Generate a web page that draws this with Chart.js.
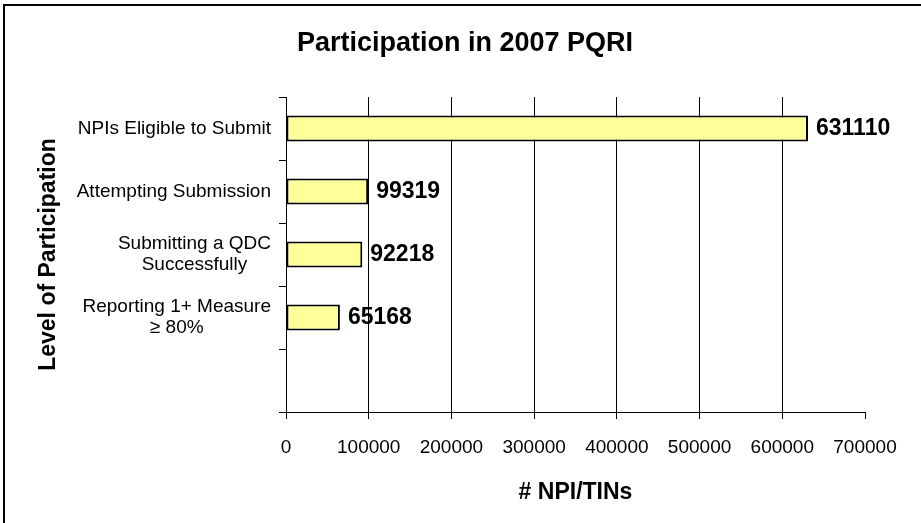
<!DOCTYPE html>
<html>
<head>
<meta charset="utf-8">
<script src="https://cdn.jsdelivr.net/npm/chart.js@4.4.1/dist/chart.umd.min.js"></script>
<style>
html, body { margin: 0; padding: 0; background: #fff; }
#wrap { width: 921px; height: 523px; }
</style>
</head>
<body>
<div id="wrap"><canvas id="pqriChart" width="921" height="523"></canvas></div>
<script>
// chart data
const categories = [
    ['NPIs Eligible to Submit'],
    ['Attempting Submission'],
    ['Submitting a QDC', 'Successfully'],
    ['Reporting 1+ Measure', '≥ 80%'],
    ['']
];
const counts = [631110, 99319, 92218, 65168, null];
const xTicks = [0, 100000, 200000, 300000, 400000, 500000, 600000, 700000];

const FONT = "'Liberation Sans', Arial, sans-serif";

// thin frame on the top and left edge
const framePlugin = {
    id: 'frame',
    beforeDraw(chart) {
        const c = chart.ctx;
        c.save();
        c.fillStyle = '#fff';
        c.fillRect(0, 0, chart.width, chart.height);
        c.fillStyle = '#000';
        c.fillRect(3, 4, 2, chart.height - 4);
        c.fillRect(3, 4, chart.width - 3, 2);
        c.restore();
    }
};

// category labels: block right aligned, lines centred on each other
const categoryLabels = {
    id: 'categoryLabels',
    afterDraw(chart) {
        const scale = chart.scales.y;
        const c = chart.ctx;
        const right = scale.right - 7 - 8;
        const lh = 21;
        c.save();
        c.font = '19px ' + FONT;
        c.fillStyle = '#000';
        c.textAlign = 'center';
        c.textBaseline = 'middle';
        categories.forEach((lines, i) => {
            const y = scale.getPixelForTick(i);
            const w = Math.max(...lines.map(l => c.measureText(l).width));
            const cx = right - w / 2;
            lines.forEach((l, j) => {
                c.fillText(l, cx, y + (j - (lines.length - 1) / 2) * lh);
            });
        });
        c.restore();
    }
};

// bold value next to each bar
const valueLabels = {
    id: 'valueLabels',
    afterDatasetsDraw(chart) {
        const c = chart.ctx;
        const meta = chart.getDatasetMeta(0);
        c.save();
        c.font = 'bold 23px ' + FONT;
        c.fillStyle = '#000';
        c.textAlign = 'left';
        c.textBaseline = 'middle';
        meta.data.forEach((bar, i) => {
            if (counts[i] == null) return;
            c.fillText(String(counts[i]), bar.x + 8, bar.y);
        });
        c.restore();
    }
};

const ctx = document.getElementById('pqriChart').getContext('2d');
const chart = new Chart(ctx, {
    type: 'bar',
    data: {
        labels: categories.map(l => l.join(' ')),
        datasets: [{
            data: counts,
            backgroundColor: '#FFFF99',
            borderColor: '#000',
            borderWidth: 2,
            borderSkipped: false,
            categoryPercentage: 1,
            barPercentage: 0.41
        }]
    },
    options: {
        indexAxis: 'y',
        responsive: false,
        devicePixelRatio: 1,
        animation: false,
        layout: { padding: { left: 33, right: 24, top: 0, bottom: 0 } },
        plugins: {
            legend: { display: false },
            tooltip: { enabled: false },
            title: {
                display: true,
                text: 'Participation in 2007 PQRI',
                color: '#000',
                font: { family: FONT, size: 27, weight: 'bold' },
                padding: { top: 27, bottom: 37.6 }
            }
        },
        scales: {
            x: {
                type: 'linear',
                position: 'bottom',
                min: 0,
                max: 700000,
                afterBuildTicks: s => { s.ticks = xTicks.map(v => ({ value: v })); },
                afterFit: s => { s.height = 111; s.paddingRight = 56; },
                ticks: {
                    color: '#000',
                    font: { family: FONT, size: 19 },
                    padding: 17,
                    maxRotation: 0,
                    autoSkip: false,
                    callback: v => String(v)
                },
                grid: {
                    color: c => (c.tick && c.tick.value === 700000) ? 'rgba(0,0,0,0)' : '#000',
                    tickColor: '#000',
                    tickLength: 7,
                    lineWidth: 1
                },
                border: { color: '#000', width: 1 },
                title: {
                    display: true,
                    text: '# NPI/TINs',
                    color: '#000',
                    font: { family: FONT, size: 23, weight: 'bold' },
                    padding: { top: 0, bottom: 17 }
                }
            },
            y: {
                type: 'category',
                position: 'left',
                offset: true,
                afterFit: s => { s.width = 253; },
                ticks: { display: false },
                grid: {
                    offset: true,
                    drawOnChartArea: false,
                    drawTicks: true,
                    tickLength: 7,
                    color: '#000'
                },
                border: { color: '#000', width: 1 },
                title: {
                    display: true,
                    text: 'Level of Participation',
                    color: '#000',
                    font: { family: FONT, size: 23, weight: 'bold' },
                    padding: { top: 2, bottom: 0 }
                }
            }
        }
    },
    plugins: [framePlugin, categoryLabels, valueLabels]
});
</script>
</body>
</html>
